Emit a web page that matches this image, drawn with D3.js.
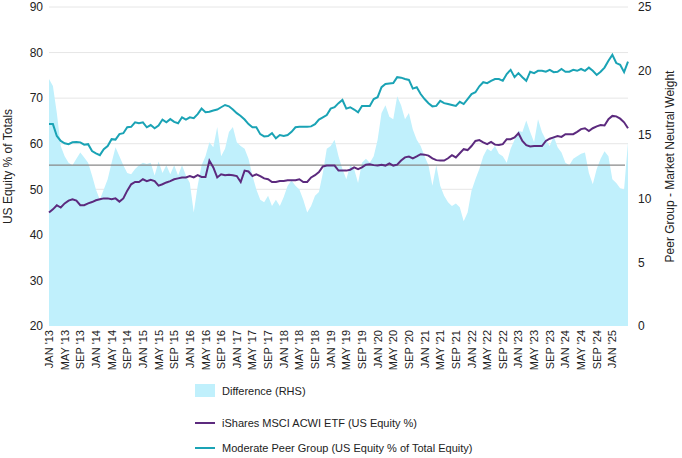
<!DOCTYPE html>
<html>
<head>
<meta charset="utf-8">
<script src="https://cdn.jsdelivr.net/npm/d3@7"></script>
<style>
  body { margin: 0; background: #fff; }
  text { font-family: "Liberation Sans", Arial, sans-serif; }
</style>
</head>
<body>
<div id="chart"></div>
<script>
const kWidth = 682;
const kHeight = 458;

const startYear = 2013;
const leftTicks = [20, 30, 40, 50, 60, 70, 80, 90];
const rightTicks = [0, 5, 10, 15, 20, 25];
const monthNames = ["JAN", "FEB", "MAR", "APR", "MAY", "JUN", "JUL", "AUG", "SEP", "OCT", "NOV", "DEC"];
const lastLabelMonth = 144; // JAN '25
const refLine = 55.3;

const peerGroup = [64.3,64.3,61.7,60.6,60.1,59.9,60.3,60.4,60.3,59.8,59.9,58.4,57.9,57.5,58.8,59.5,61.0,60.9,62.1,62.3,
  63.6,63.7,64.7,64.5,64.7,63.6,64.1,63.4,64.0,65.3,64.7,65.4,64.8,64.5,65.8,65.3,65.8,65.6,66.5,67.7,
  66.9,67.0,67.3,67.5,68.0,68.5,68.2,67.5,66.7,66.1,65.3,64.3,63.6,63.6,62.1,61.6,61.7,62.3,61.2,61.9,
  61.7,61.9,62.6,63.6,63.7,63.7,63.7,63.8,64.3,65.3,65.8,66.3,67.7,68.0,68.9,69.6,67.7,68.0,67.5,66.9,
  68.3,68.3,68.3,69.8,70.2,72.4,73.1,73.2,73.3,74.6,74.5,74.2,74.0,72.1,72.4,70.9,69.8,68.9,68.2,68.3,
  69.4,68.9,68.7,68.5,68.3,69.2,68.7,69.8,70.9,71.3,72.6,73.5,73.3,73.8,74.2,74.2,73.8,75.3,76.2,74.6,
  75.5,74.6,73.8,75.8,75.5,76.0,76.0,75.8,76.2,75.7,75.8,76.4,75.8,75.8,76.2,76.0,76.4,76.0,76.7,76.0,
  75.1,75.8,76.7,78.2,79.5,77.7,77.3,75.7,78.0];

const ishares = [44.9,45.6,46.5,46.0,46.9,47.5,47.8,47.5,46.5,46.5,46.9,47.2,47.6,47.8,48.0,48.0,47.8,48.0,47.3,48.0,
  49.7,51.1,51.6,51.6,52.2,51.8,52.1,51.8,50.8,51.1,51.5,51.8,52.2,52.4,52.6,52.6,52.9,52.6,53.1,52.7,
  52.7,56.3,54.8,52.6,53.3,53.1,53.2,53.1,52.9,51.6,54.1,53.9,52.9,53.3,52.9,52.4,52.2,51.6,51.6,51.8,
  51.8,52.0,52.0,52.0,52.2,51.6,51.6,52.6,53.1,53.8,55.0,55.2,55.2,55.2,54.1,54.1,54.1,54.3,54.8,54.4,
  54.8,55.4,55.5,55.3,55.2,55.4,55.2,55.7,55.2,55.4,56.3,57.0,57.2,56.8,57.2,57.7,57.6,57.4,56.8,56.4,
  56.3,56.3,56.8,57.5,57.0,57.9,58.8,58.6,59.5,60.6,60.8,60.3,59.9,60.4,59.8,59.7,59.9,61.0,61.0,61.4,
  62.3,60.6,59.7,59.4,59.5,59.5,59.5,60.6,61.1,61.4,61.7,61.5,62.1,62.1,62.1,62.6,63.2,63.4,62.8,63.4,
  63.8,64.1,64.0,65.4,66.1,66.0,65.5,64.7,63.4];

const difference = [19.35,18.8,16.7,14.1,13.3,12.8,12.6,13.1,13.6,13.2,12.8,11.8,10.7,9.9,10.7,11.5,12.8,14.0,13.3,12.6,
  12.0,11.9,12.3,12.6,12.8,12.7,12.8,11.8,12.9,12.0,12.6,11.9,12.6,11.8,12.6,11.8,11.2,8.9,11.0,12.6,
  13.3,14.4,14.0,15.6,13.3,13.9,15.2,15.6,14.4,14.1,13.9,13.1,11.8,10.7,9.9,9.7,10.2,9.4,9.9,9.4,
  10.1,11.0,11.4,11.0,10.7,9.9,8.9,9.4,10.2,10.5,12.0,13.9,14.1,14.6,13.3,12.3,11.5,12.6,12.3,11.2,
  12.8,13.1,12.8,13.3,14.6,16.7,17.3,16.4,16.2,18.0,17.3,16.2,16.7,15.4,14.6,14.1,13.3,12.6,11.0,12.6,
  11.0,10.2,9.7,9.4,9.6,9.3,8.2,8.9,10.6,11.5,12.3,13.3,13.9,13.7,14.1,13.5,13.3,12.8,13.9,14.6,
  15.3,15.2,16.1,15.2,14.4,16.2,15.2,14.6,14.1,14.9,14.0,13.6,12.8,12.6,13.1,13.3,13.5,13.6,12.0,11.1,
  12.3,13.1,13.7,13.3,11.5,11.2,10.8,10.7,14.4];

const legendLabels = ["Difference (RHS)", "iShares MSCI ACWI ETF (US Equity %)", "Moderate Peer Group (US Equity % of Total Equity)"];

const margin = { left: 49, right: 54, top: 7, bottom: 132 };
const plotW = kWidth - margin.left - margin.right;
const plotH = kHeight - margin.top - margin.bottom;

const svg = d3.select("#chart").append("svg")
  .attr("width", kWidth).attr("height", kHeight);

const months = d3.range(peerGroup.length);
const x = d3.scaleLinear().domain([0, months.length - 1]).range([margin.left, margin.left + plotW]);
const yL = d3.scaleLinear().domain([20, 90]).range([margin.top + plotH, margin.top]);
const yR = d3.scaleLinear().domain([0, 25]).range([margin.top + plotH, margin.top]);

// gridlines
svg.append("g").selectAll("line").data(leftTicks.slice(1)).enter().append("line")
  .attr("x1", margin.left).attr("x2", margin.left + plotW)
  .attr("y1", d => yL(d)).attr("y2", d => yL(d))
  .attr("stroke", "#e6e6e6").attr("stroke-width", 1);

// difference area
svg.append("path").datum(difference)
  .attr("d", d3.area().x((d, i) => x(i)).y0(yR(0)).y1(d => yR(d)))
  .attr("fill", "#c0f0fc");

// reference line
svg.append("line")
  .attr("x1", margin.left).attr("x2", margin.left + plotW - 3)
  .attr("y1", yL(refLine)).attr("y2", yL(refLine))
  .attr("stroke", "#888").attr("stroke-width", 1.2);

const line = d3.line().x((d, i) => x(i)).y(d => yL(d));
svg.append("path").datum(peerGroup).attr("d", line)
  .attr("fill", "none").attr("stroke", "#1aa3b5").attr("stroke-width", 2);
svg.append("path").datum(ishares).attr("d", line)
  .attr("fill", "none").attr("stroke", "#5c2a7e").attr("stroke-width", 2);

// axes
const leftAxis = d3.axisLeft(yL).tickValues(leftTicks).tickSize(0).tickPadding(6);
svg.append("g").attr("transform", `translate(${margin.left},0)`).call(leftAxis)
  .call(g => g.select(".domain").remove())
  .selectAll("text").attr("font-size", 12).attr("fill", "#222");

const rightAxis = d3.axisRight(yR).tickValues(rightTicks).tickSize(0).tickPadding(10);
svg.append("g").attr("transform", `translate(${margin.left + plotW},0)`).call(rightAxis)
  .call(g => g.select(".domain").remove())
  .selectAll("text").attr("font-size", 12).attr("fill", "#222");

const tickMonths = months.filter(i => i % 4 === 0 && i <= lastLabelMonth);
const xAxis = d3.axisBottom(x).tickValues(tickMonths).tickSize(0)
  .tickFormat(i => `${monthNames[i % 12]} '${String((startYear + Math.floor(i / 12)) % 100).padStart(2, "0")}`);
svg.append("g").attr("transform", `translate(0,${margin.top + plotH})`).call(xAxis)
  .call(g => g.select(".domain").remove())
  .selectAll("text")
  .attr("font-size", 11).attr("fill", "#222")
  .attr("transform", "rotate(-90)")
  .attr("text-anchor", "end")
  .attr("dx", "-4").attr("dy", "0.32em").attr("x", 0).attr("y", 0);

svg.append("text")
  .attr("transform", `translate(12,${margin.top + plotH / 2}) rotate(-90)`)
  .attr("text-anchor", "middle").attr("font-size", 12).attr("fill", "#222")
  .text("US Equity % of Totals");
svg.append("text")
  .attr("transform", `translate(674,${margin.top + plotH / 2}) rotate(-90)`)
  .attr("text-anchor", "middle").attr("font-size", 12).attr("fill", "#222")
  .text("Peer Group - Market Neutral Weight");

// legend
const legend = svg.append("g");
legend.append("rect").attr("x", 195).attr("y", 384).attr("width", 20).attr("height", 13).attr("fill", "#c0f0fc");
legend.append("line").attr("x1", 195).attr("x2", 215).attr("y1", 423).attr("y2", 423)
  .attr("stroke", "#5c2a7e").attr("stroke-width", 2);
legend.append("line").attr("x1", 195).attr("x2", 215).attr("y1", 448).attr("y2", 448)
  .attr("stroke", "#1aa3b5").attr("stroke-width", 2);
[391, 423, 448].forEach((yy, i) => {
  legend.append("text").attr("x", 222).attr("y", yy).attr("dy", "0.35em")
    .attr("font-size", 11).attr("fill", "#222").text(legendLabels[i]);
});
</script>
</body>
</html>
